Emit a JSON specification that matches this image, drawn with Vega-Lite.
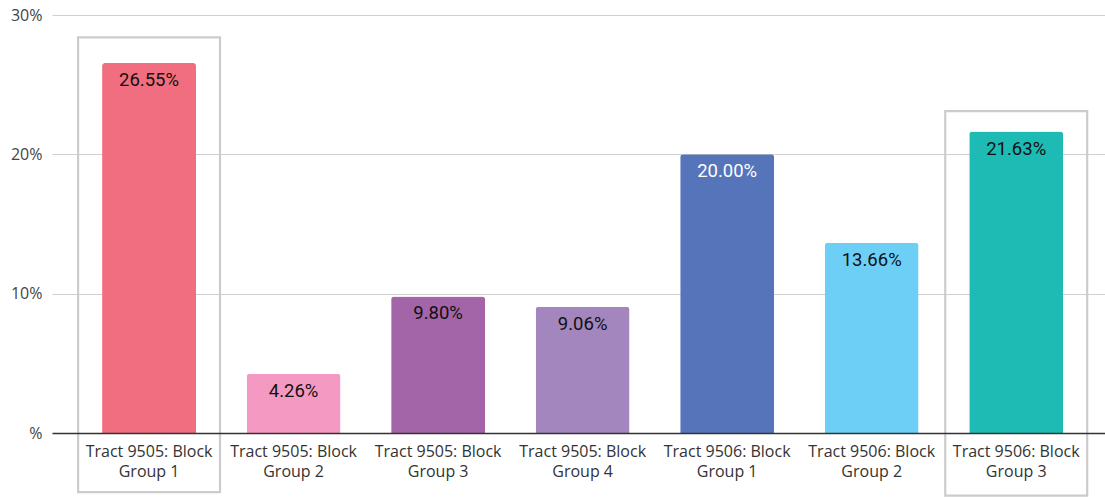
{
  "$schema": "https://vega.github.io/schema/vega-lite/v6.json",
  "autosize": "none",
  "width": 1053,
  "height": 418,
  "padding": {"left": 52, "top": 15, "right": 0, "bottom": 65},
  "background": "white",
  "config": {"view": {"stroke": null}},
  "datasets": {
    "bars": [
      {"group": "Tract 9505: Block Group 1", "value": 26.55},
      {"group": "Tract 9505: Block Group 2", "value": 4.26},
      {"group": "Tract 9505: Block Group 3", "value": 9.80},
      {"group": "Tract 9505: Block Group 4", "value": 9.06},
      {"group": "Tract 9506: Block Group 1", "value": 20.00},
      {"group": "Tract 9506: Block Group 2", "value": 13.66},
      {"group": "Tract 9506: Block Group 3", "value": 21.63}
    ],
    "boxes": [
      {"group": "Tract 9505: Block Group 1", "top": 28.4, "bottom": -4.25},
      {"group": "Tract 9506: Block Group 3", "top": 23.1, "bottom": -4.5}
    ]
  },
  "encoding": {
    "x": {
      "field": "group",
      "type": "nominal",
      "sort": null,
      "scale": {"paddingInner": 0, "paddingOuter": 0.143, "align": 0.6},
      "axis": {
        "title": null,
        "labelAngle": 0,
        "labelExpr": "[slice(datum.label, 0, 17), slice(datum.label, 18)]",
        "labelFont": "Open Sans",
        "labelFontSize": 16,
        "labelColor": "#333333",
        "labelLineHeight": 20,
        "labelPadding": 10,
        "labelBaseline": "top",
        "ticks": false,
        "domainColor": "#333333",
        "domainWidth": 1.5,
        "zindex": 1
      }
    }
  },
  "layer": [
    {
      "data": {"name": "bars"},
      "mark": {"type": "bar", "width": {"band": 0.65}, "cornerRadiusTopLeft": 3, "cornerRadiusTopRight": 3},
      "encoding": {
        "y": {
          "field": "value",
          "type": "quantitative",
          "scale": {"domain": [0, 30]},
          "axis": {
            "title": null,
            "values": [0, 10, 20, 30],
            "labelExpr": "datum.value == 0 ? '%' : datum.value + '%'",
            "labelFont": "Open Sans",
            "labelFontSize": 16,
            "labelColor": "#444444",
            "labelPadding": 10,
            "ticks": false,
            "domain": false,
            "gridColor": "#d0d0d0",
            "gridWidth": 1.2
          }
        },
        "color": {
          "field": "group",
          "type": "nominal",
          "legend": null,
          "scale": {
            "domain": [
              "Tract 9505: Block Group 1", "Tract 9505: Block Group 2", "Tract 9505: Block Group 3",
              "Tract 9505: Block Group 4", "Tract 9506: Block Group 1", "Tract 9506: Block Group 2",
              "Tract 9506: Block Group 3"
            ],
            "range": ["#F06E7F", "#F49AC2", "#A464A8", "#A286BD", "#5574BA", "#6DCFF6", "#1DBBB4"]
          }
        }
      }
    },
    {
      "data": {"name": "bars"},
      "transform": [{"calculate": "format(datum.value, '.2f') + '%'", "as": "lbl"}],
      "mark": {"type": "text", "font": "Roboto", "fontSize": 18.5, "baseline": "middle", "dy": 17},
      "encoding": {
        "y": {"field": "value", "type": "quantitative"},
        "text": {"field": "lbl"},
        "color": {
          "condition": {"test": "datum.value == 20", "value": "#ffffff"},
          "value": "#111111"
        }
      }
    },
    {
      "data": {"name": "boxes"},
      "mark": {"type": "rect", "width": {"band": 0.982}, "fill": null, "stroke": "#cccccc", "strokeWidth": 2.2},
      "encoding": {
        "y": {"field": "top", "type": "quantitative"},
        "y2": {"field": "bottom"}
      }
    }
  ]
}
